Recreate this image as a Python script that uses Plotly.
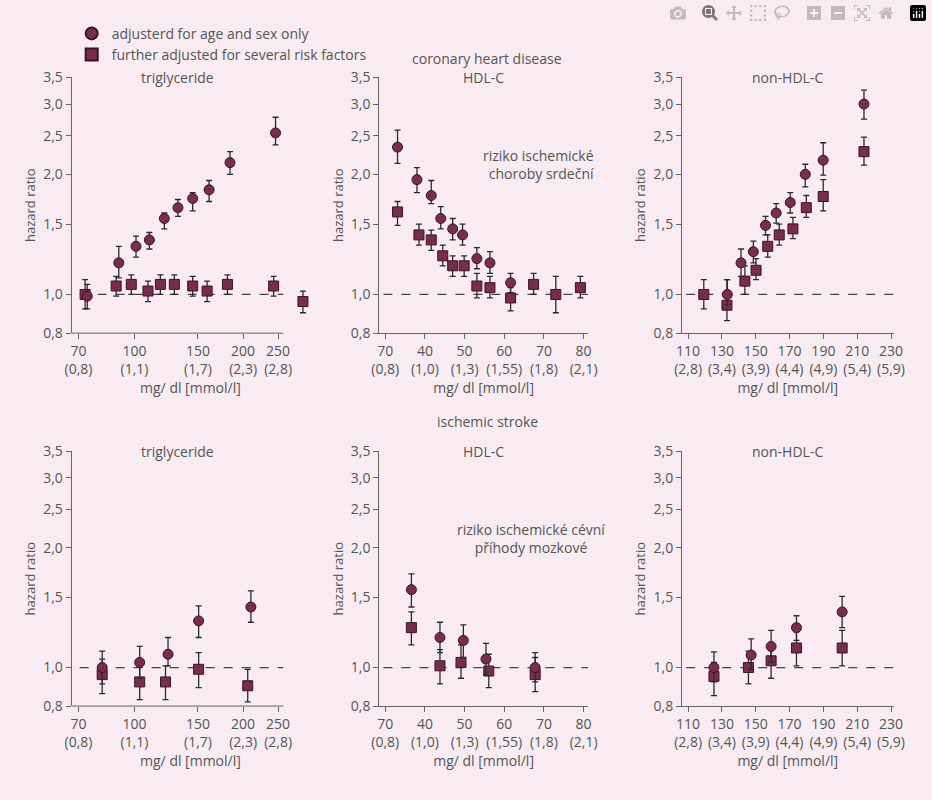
import plotly.graph_objects as go
import math

# ---------- data ----------
# coronary heart disease, triglyceride
chd_tg_x_c = [74, 90.5, 101, 110, 121, 132, 145, 161, 184, 246]
chd_tg_y_c = [0.99, 1.20, 1.32, 1.37, 1.55, 1.65, 1.74, 1.83, 2.14, 2.54]
chd_tg_hi_c = [1.06, 1.32, 1.40, 1.43, 1.60, 1.73, 1.80, 1.93, 2.28, 2.78]
chd_tg_lo_c = [0.92, 1.10, 1.24, 1.30, 1.46, 1.57, 1.62, 1.71, 2.00, 2.37]
chd_tg_x_s = [73, 89, 98, 109, 118, 129, 145, 159, 181, 243, 293]
chd_tg_y_s = [1.00, 1.05, 1.06, 1.02, 1.06, 1.06, 1.05, 1.02, 1.06, 1.05, 0.96]
chd_tg_hi_s = [1.09, 1.11, 1.12, 1.08, 1.12, 1.12, 1.11, 1.08, 1.12, 1.11, 1.02]
chd_tg_lo_s = [0.92, 0.99, 1.00, 0.96, 1.00, 1.00, 0.99, 0.96, 1.00, 0.99, 0.90]

# coronary heart disease, HDL-C
chd_hdl_x_c = [33.1, 38.0, 41.6, 44.0, 47.0, 49.5, 53.1, 56.4, 61.6]
chd_hdl_y_c = [2.34, 1.94, 1.77, 1.55, 1.46, 1.41, 1.23, 1.20, 1.07]
chd_hdl_hi_c = [2.58, 2.08, 1.93, 1.66, 1.55, 1.50, 1.31, 1.28, 1.13]
chd_hdl_lo_c = [2.13, 1.80, 1.69, 1.46, 1.37, 1.33, 1.16, 1.13, 1.01]
chd_hdl_x_s = [33.1, 38.5, 41.6, 44.5, 47.0, 49.9, 53.1, 56.4, 61.6, 67.4, 73.0, 79.2]
chd_hdl_y_s = [1.61, 1.41, 1.37, 1.25, 1.18, 1.18, 1.05, 1.04, 0.98, 1.06, 1.00, 1.04]
chd_hdl_hi_s = [1.71, 1.50, 1.45, 1.33, 1.25, 1.25, 1.13, 1.11, 1.04, 1.13, 1.11, 1.11]
chd_hdl_lo_s = [1.49, 1.33, 1.29, 1.18, 1.11, 1.11, 0.98, 0.98, 0.91, 1.00, 0.90, 0.98]

# coronary heart disease, non-HDL-C
chd_nh_x_c = [133.2, 141.3, 148.6, 155.8, 162.1, 170.4, 179.3, 189.9, 214]
chd_nh_y_c = [1.00, 1.20, 1.28, 1.49, 1.60, 1.70, 2.00, 2.17, 3.00]
chd_nh_hi_c = [1.09, 1.30, 1.36, 1.57, 1.69, 1.80, 2.12, 2.40, 3.25]
chd_nh_lo_c = [0.94, 1.11, 1.20, 1.41, 1.51, 1.60, 1.86, 1.99, 2.75]
chd_nh_x_s = [119.3, 133, 143.6, 150.2, 157.1, 163.9, 172, 179.9, 189.9, 214]
chd_nh_y_s = [1.00, 0.94, 1.08, 1.15, 1.32, 1.41, 1.46, 1.65, 1.76, 2.28]
chd_nh_hi_s = [1.09, 1.09, 1.18, 1.23, 1.41, 1.50, 1.56, 1.77, 1.94, 2.48]
chd_nh_lo_s = [0.92, 0.86, 1.00, 1.09, 1.24, 1.33, 1.38, 1.56, 1.62, 2.11]

# ischemic stroke, triglyceride
is_tg_x_c = [81.4, 103.4, 123.9, 150.6, 210.2]
is_tg_y_c = [1.00, 1.03, 1.08, 1.31, 1.42]
is_tg_hi_c = [1.10, 1.13, 1.19, 1.43, 1.56]
is_tg_lo_c = [0.91, 0.94, 1.01, 1.19, 1.30]
is_tg_x_s = [81.4, 103.4, 121.9, 150.6, 206]
is_tg_y_s = [0.96, 0.92, 0.92, 0.99, 0.90]
is_tg_hi_s = [1.05, 1.01, 1.01, 1.09, 0.99]
is_tg_lo_s = [0.86, 0.83, 0.83, 0.89, 0.82]

# ischemic stroke, HDL-C
is_hdl_x_c = [36.6, 43.8, 49.7, 55.4, 67.8]
is_hdl_y_c = [1.57, 1.19, 1.17, 1.05, 1.00]
is_hdl_hi_c = [1.72, 1.30, 1.28, 1.15, 1.09]
is_hdl_lo_c = [1.42, 1.09, 1.06, 0.96, 0.92]
is_hdl_x_s = [36.6, 43.8, 49.1, 56.1, 67.8]
is_hdl_y_s = [1.26, 1.01, 1.03, 0.98, 0.96]
is_hdl_hi_s = [1.38, 1.11, 1.14, 1.08, 1.06]
is_hdl_lo_s = [1.14, 0.91, 0.94, 0.89, 0.87]

# ischemic stroke, non-HDL-C
is_nh_x_c = [125.3, 147.3, 159.1, 174.1, 201.1]
is_nh_y_c = [1.00, 1.075, 1.13, 1.26, 1.38]
is_nh_hi_c = [1.095, 1.18, 1.24, 1.35, 1.51]
is_nh_lo_c = [0.92, 0.99, 1.03, 1.17, 1.26]
is_nh_x_s = [125.3, 145.7, 159.1, 174.1, 201.1]
is_nh_y_s = [0.95, 1.00, 1.04, 1.12, 1.12]
is_nh_hi_s = [1.03, 1.10, 1.14, 1.23, 1.24]
is_nh_lo_s = [0.85, 0.91, 0.94, 1.01, 1.01]

y_ticks = [0.8, 1.0, 1.5, 2.0, 2.5, 3.0, 3.5]
y_ticktext = ["0,8", "1,0", "1,5", "2,0", "2,5", "3,0", "3,5"]
tg_ticks = [70, 100, 150, 200, 250]
tg_ticktext = ["70<br>(0,8)", "100<br>(1,1)", "150<br>(1,7)", "200<br>(2,3)", "250<br>(2,8)"]
hdl_ticks = [30, 40, 50, 60, 70, 80]
hdl_ticktext = ["70<br>(0,8)", "40<br>(1,0)", "50<br>(1,3)", "60<br>(1,55)", "70<br>(1,8)", "80<br>(2,1)"]
nh_ticks = [110, 130, 150, 170, 190, 210, 230]
nh_ticktext = ["110<br>(2,8)", "130<br>(3,4)", "150<br>(3,9)", "170<br>(4,4)", "190<br>(4,9)", "210<br>(5,4)", "230<br>(5,9)"]

series_names = ["adjusterd for age and sex only", "further adjusted for several risk factors"]

# ---------- figure ----------
BG = "#f8ecf2"
MK = "#7b2b4e"
MKL = "#3a1424"
TXT = "#555555"
AX = "#666666"
FONT = "Open Sans"

fig = go.Figure()

TG_LO, TG_HI, TG_EXT = 67, 258.6, 305
panels = [
    (chd_tg_x_c, chd_tg_y_c, chd_tg_hi_c, chd_tg_lo_c, chd_tg_x_s, chd_tg_y_s, chd_tg_hi_s, chd_tg_lo_s,
     "log", tg_ticks, tg_ticktext, "triglyceride"),
    (chd_hdl_x_c, chd_hdl_y_c, chd_hdl_hi_c, chd_hdl_lo_c, chd_hdl_x_s, chd_hdl_y_s, chd_hdl_hi_s, chd_hdl_lo_s,
     "linear", hdl_ticks, hdl_ticktext, "HDL-C"),
    (chd_nh_x_c, chd_nh_y_c, chd_nh_hi_c, chd_nh_lo_c, chd_nh_x_s, chd_nh_y_s, chd_nh_hi_s, chd_nh_lo_s,
     "linear", nh_ticks, nh_ticktext, "non-HDL-C"),
    (is_tg_x_c, is_tg_y_c, is_tg_hi_c, is_tg_lo_c, is_tg_x_s, is_tg_y_s, is_tg_hi_s, is_tg_lo_s,
     "log", tg_ticks, tg_ticktext, "triglyceride"),
    (is_hdl_x_c, is_hdl_y_c, is_hdl_hi_c, is_hdl_lo_c, is_hdl_x_s, is_hdl_y_s, is_hdl_hi_s, is_hdl_lo_s,
     "linear", hdl_ticks, hdl_ticktext, "HDL-C"),
    (is_nh_x_c, is_nh_y_c, is_nh_hi_c, is_nh_lo_c, is_nh_x_s, is_nh_y_s, is_nh_hi_s, is_nh_lo_s,
     "linear", nh_ticks, nh_ticktext, "non-HDL-C"),
]
xranges = [[math.log10(TG_LO), math.log10(TG_EXT)], [28.5, 81.1], [106.4, 231.5]]

W, H = 932, 800
tg_px = 160 * math.log(TG_EXT / TG_LO)
xdoms = [[65 / W, (65 + tg_px) / W], [379 / W, 592 / W], [688 / W, 904 / W]]
ydoms = [[1 - 331 / H, 1 - 69 / H], [1 - 713 / H, 1 - 452 / H]]

layout_axes = {}
annotations = []
shapes = []

for i, p in enumerate(panels):
    xc, yc, hc, lc, xs, ys, hs, ls, xtype, xt, xtt, title = p
    n = i + 1
    xa = "x" if n == 1 else f"x{n}"
    ya = "y" if n == 1 else f"y{n}"
    row, col = divmod(i, 3)
    for (xx, yy, hi, lo, sym, name, sl) in [
        (xs, ys, hs, ls, "square", series_names[1], i == 0),
        (xc, yc, hc, lc, "circle", series_names[0], i == 0),
    ]:
        fig.add_trace(go.Scatter(
            x=xx, y=yy, mode="markers", xaxis=xa, yaxis=ya, name=name,
            showlegend=sl, legendrank=2 if sym == "square" else 1,
            cliponaxis=False,
            marker=dict(symbol=sym, size=10, color=MK, line=dict(color=MKL, width=1)),
            error_y=dict(type="data", symmetric=False,
                         array=[h - v for h, v in zip(hi, yy)],
                         arrayminus=[v - l for v, l in zip(yy, lo)],
                         color="#2a2a2a", thickness=1.3, width=3),
        ))
    is_tg = (col == 0)
    common = dict(showgrid=False, zeroline=False, showline=True, linecolor=AX, linewidth=1,
                  ticks="outside", ticklen=5, tickcolor=AX,
                  tickfont=dict(family=FONT, size=14, color=TXT))
    xdict = dict(common, type=xtype, range=xranges[col], domain=xdoms[col], anchor=ya,
                 tickvals=xt, ticktext=xtt,
                 title=dict(text="mg/ dl [mmol/l]", font=dict(family=FONT, size=14, color=TXT), standoff=6))
    if is_tg:
        xdict["showline"] = False
        shapes.append(dict(type="line", xref=xa, yref=f"{ya} domain", x0=TG_LO, x1=TG_HI, y0=0, y1=0,
                           line=dict(color=AX, width=1)))
    layout_axes["xaxis" if n == 1 else f"xaxis{n}"] = xdict
    layout_axes["yaxis" if n == 1 else f"yaxis{n}"] = dict(
        common, type="log", range=[math.log10(0.8), math.log10(3.5)], domain=ydoms[row], anchor=xa,
        tickvals=y_ticks, ticktext=y_ticktext,
        title=dict(text="hazard ratio", font=dict(family=FONT, size=13, color=TXT), standoff=4))
    if is_tg:
        shapes.append(dict(type="line", xref=xa, yref=ya, x0=70.5, x1=TG_HI, y0=1, y1=1,
                           line=dict(color="#444444", width=1.2, dash="dash"), layer="below"))
        tx = 0.5 * (math.log10(TG_LO) + math.log10(TG_HI))
        annotations.append(dict(text=title, xref=xa, yref=f"{ya} domain", x=tx, y=1.0,
                                xanchor="center", yanchor="middle", showarrow=False,
                                font=dict(family=FONT, size=14, color=TXT)))
    else:
        shapes.append(dict(type="line", xref=f"{xa} domain", yref=ya, x0=0.02, x1=1, y0=1, y1=1,
                           line=dict(color="#444444", width=1.2, dash="dash"), layer="below"))
        annotations.append(dict(text=title, xref=f"{xa} domain", yref=f"{ya} domain", x=0.5, y=1.0,
                                xanchor="center", yanchor="middle", showarrow=False,
                                font=dict(family=FONT, size=14, color=TXT)))

annotations += [
    dict(text="coronary heart disease", xref="paper", yref="paper", x=489 / W, y=1 - 38 / H,
         showarrow=False, font=dict(family=FONT, size=14, color=TXT)),
    dict(text="ischemic stroke", xref="paper", yref="paper", x=489 / W, y=1 - 422 / H,
         showarrow=False, font=dict(family=FONT, size=14, color=TXT)),
    dict(text="riziko ischemické<br>choroby srdeční", xref="x2 domain", yref="y2 domain",
         x=1.04, y=0.74, xanchor="right", align="right", showarrow=False,
         font=dict(family=FONT, size=14, color=TXT)),
    dict(text="riziko ischemické cévní<br>příhody mozkové", xref="x5 domain", yref="y5 domain",
         x=1.09, y=0.74, xanchor="right", align="center", showarrow=False,
         font=dict(family=FONT, size=14, color=TXT)),
]

fig.update_layout(
    width=W, height=H, paper_bgcolor=BG, plot_bgcolor="rgba(0,0,0,0)",
    margin=dict(l=0, r=0, t=0, b=0),
    font=dict(family=FONT, color=TXT),
    showlegend=True,
    legend=dict(x=65 / W, y=1 - 8 / H, xanchor="left", yanchor="top", bgcolor="rgba(0,0,0,0)",
                font=dict(family=FONT, size=14, color=TXT), tracegroupgap=0, itemsizing="constant"),
    annotations=annotations, shapes=shapes,
    **layout_axes,
)

fig.write_html("out.html",
               post_script="document.body.style.margin='0';document.body.style.background='%s';" % BG)
